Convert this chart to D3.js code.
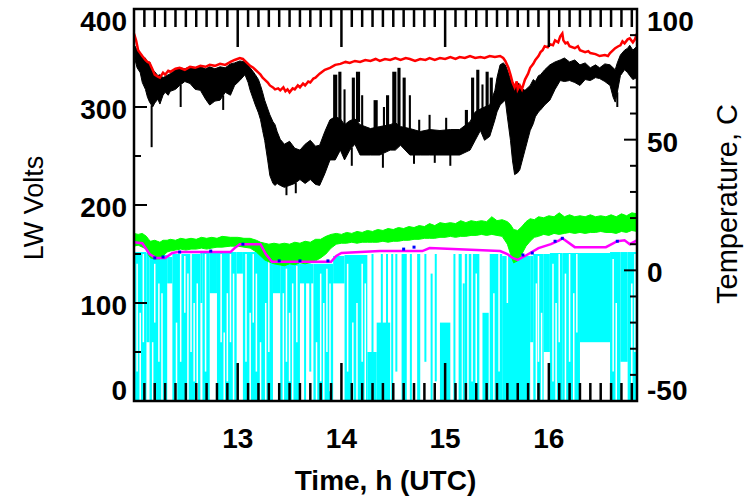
<!DOCTYPE html>
<html>
<head>
<meta charset="utf-8">
<script src="https://cdn.jsdelivr.net/npm/d3@7"></script>
<style>
  body { margin: 0; background: #fff; }
  svg text { font-family: "Liberation Sans", Arial, Helvetica, sans-serif; }
</style>
</head>
<body>
<svg id="chart" width="753" height="499"></svg>
<script>
// time axis (hours UTC)
const majorHours = [13, 14, 15, 16];
const leftTicks = [0, 100, 200, 300, 400];
const rightTicks = [-50, 0, 50, 100];

// red line (LW volts)
const redT = [12.00, 12.02, 12.04, 12.06, 12.08, 12.11, 12.13, 12.15, 12.18, 12.20, 12.23, 12.25, 12.28, 12.30, 12.33, 12.35, 12.40, 12.44, 12.49, 12.54, 12.59, 12.64, 12.69, 12.73, 12.78, 12.83, 12.88, 12.93, 12.97, 13.02, 13.05, 13.07, 13.10, 13.12, 13.15, 13.17, 13.20, 13.22, 13.24, 13.26, 13.29, 13.31, 13.34, 13.36, 13.39, 13.41, 13.44, 13.46, 13.48, 13.50, 13.53, 13.55, 13.58, 13.60, 13.63, 13.65, 13.68, 13.70, 13.73, 13.75, 13.79, 13.84, 13.89, 13.94, 13.99, 14.04, 14.08, 14.13, 14.18, 14.23, 14.28, 14.33, 14.37, 14.42, 14.47, 14.52, 14.57, 14.62, 14.66, 14.71, 14.76, 14.81, 14.85, 14.90, 14.95, 15.00, 15.05, 15.10, 15.14, 15.19, 15.24, 15.29, 15.34, 15.38, 15.43, 15.48, 15.53, 15.56, 15.58, 15.61, 15.63, 15.65, 15.67, 15.69, 15.70, 15.72, 15.74, 15.77, 15.80, 15.82, 15.85, 15.87, 15.90, 15.92, 15.94, 15.96, 15.99, 16.01, 16.04, 16.06, 16.09, 16.11, 16.13, 16.14, 16.16, 16.18, 16.20, 16.25, 16.28, 16.30, 16.35, 16.38, 16.40, 16.45, 16.49, 16.54, 16.57, 16.59, 16.62, 16.64, 16.67, 16.69, 16.71, 16.73, 16.76, 16.78, 16.81, 16.83, 16.85];
const redV = [375, 368, 358, 355, 352, 348, 346, 345, 338, 333, 331, 330, 335, 333, 337, 336, 339, 340, 338, 341, 340, 342, 341, 343, 342, 344, 343, 346, 348, 350, 349, 347, 344, 342, 340, 338, 335, 333, 330, 328, 325, 322, 320, 318, 319, 317, 320, 316, 318, 315, 319, 318, 322, 320, 324, 322, 326, 325, 329, 330, 334, 338, 340, 343, 344, 346, 345, 347, 346, 348, 347, 349, 347, 349, 348, 350, 348, 350, 349, 347, 349, 348, 350, 348, 350, 349, 351, 349, 351, 350, 352, 350, 351, 350, 352, 351, 352, 350, 347, 340, 333, 325, 320, 326, 318, 322, 318, 328, 334, 340, 344, 348, 352, 356, 358, 362, 361, 364, 363, 368, 366, 372, 375, 368, 365, 366, 362, 360, 362, 358, 356, 357, 355, 354, 352, 353, 352, 355, 358, 360, 362, 363, 367, 365, 369, 370, 366, 369, 375];

// black band (upper / lower edge, volts)
const blackT = [12.01, 12.03, 12.06, 12.08, 12.11, 12.13, 12.15, 12.18, 12.20, 12.23, 12.25, 12.28, 12.30, 12.33, 12.35, 12.40, 12.44, 12.49, 12.54, 12.59, 12.64, 12.69, 12.73, 12.78, 12.83, 12.88, 12.93, 12.97, 13.02, 13.07, 13.10, 13.12, 13.15, 13.17, 13.20, 13.22, 13.24, 13.26, 13.29, 13.31, 13.34, 13.36, 13.38, 13.41, 13.45, 13.50, 13.55, 13.60, 13.65, 13.70, 13.75, 13.79, 13.84, 13.89, 13.94, 13.99, 14.03, 14.08, 14.13, 14.18, 14.28, 14.37, 14.47, 14.52, 14.57, 14.66, 14.76, 14.85, 14.95, 15.05, 15.14, 15.24, 15.29, 15.34, 15.38, 15.43, 15.48, 15.50, 15.53, 15.56, 15.58, 15.60, 15.63, 15.65, 15.67, 15.70, 15.72, 15.75, 15.77, 15.80, 15.82, 15.85, 15.87, 15.90, 15.92, 15.96, 16.01, 16.06, 16.11, 16.15, 16.20, 16.25, 16.30, 16.35, 16.40, 16.45, 16.49, 16.54, 16.59, 16.62, 16.64, 16.66, 16.69, 16.73, 16.76, 16.78, 16.81, 16.85];
const blackHi = [362, 358, 355, 350, 350, 345, 346, 338, 336, 332, 333, 330, 331, 333, 334, 338, 340, 339, 341, 340, 341, 339, 341, 339, 341, 340, 344, 345, 347, 346, 343, 340, 336, 333, 328, 322, 315, 307, 298, 292, 285, 282, 275, 267, 262, 265, 258, 256, 262, 266, 260, 261, 275, 287, 290, 288, 282, 286, 288, 282, 278, 280, 282, 284, 280, 278, 275, 277, 276, 277, 277, 285, 295, 298, 300, 302, 317, 330, 343, 345, 343, 338, 328, 325, 322, 325, 322, 318, 317, 320, 322, 328, 326, 332, 333, 338, 343, 346, 348, 350, 346, 348, 343, 345, 340, 343, 340, 344, 343, 340, 338, 345, 353, 358, 360, 363, 358, 362];
const blackLo = [348, 340, 335, 325, 318, 310, 305, 300, 304, 308, 303, 312, 315, 312, 316, 318, 322, 326, 324, 318, 317, 308, 302, 306, 307, 315, 312, 322, 327, 333, 325, 317, 308, 302, 294, 287, 276, 266, 245, 230, 222, 220, 222, 220, 218, 220, 222, 226, 222, 226, 221, 220, 232, 246, 246, 256, 246, 256, 262, 251, 251, 251, 256, 256, 261, 251, 251, 251, 251, 251, 251, 256, 266, 276, 266, 270, 287, 295, 302, 305, 307, 290, 266, 245, 231, 233, 236, 248, 256, 268, 276, 283, 290, 295, 297, 302, 307, 318, 327, 326, 327, 325, 322, 328, 327, 330, 329, 326, 322, 310, 305, 315, 332, 338, 335, 332, 328, 330];
// black columns rising above the band: [t0, t1, top]
const blackUp = [[13.92, 13.96, 333], [13.97, 14.00, 336], [14.02, 14.04, 318], [14.10, 14.13, 330], [14.14, 14.18, 336], [14.19, 14.21, 312], [14.31, 14.35, 307], [14.40, 14.42, 300], [14.43, 14.46, 312], [14.49, 14.53, 336], [14.54, 14.57, 340], [14.59, 14.62, 330], [14.65, 14.67, 312], [14.74, 14.76, 287], [14.84, 14.86, 292], [15.00, 15.02, 289], [15.19, 15.22, 297], [15.25, 15.28, 330], [15.30, 15.33, 338], [15.35, 15.37, 323], [15.39, 15.42, 336], [15.43, 15.46, 330], [15.49, 15.51, 312]];
const blackDown = [[12.17, 259], [12.45, 300], [12.86, 297], [13.47, 210], [13.56, 212], [14.10, 240], [14.40, 238], [14.70, 242], [14.90, 243], [15.05, 240], [16.66, 300]];

// green band (volts)
const greenT = [12.00, 12.04, 12.08, 12.12, 12.14, 12.16, 12.20, 12.25, 12.28, 12.32, 12.35, 12.40, 12.45, 12.50, 12.55, 12.60, 12.65, 12.70, 12.75, 12.80, 12.85, 12.93, 13.00, 13.06, 13.12, 13.18, 13.22, 13.26, 13.30, 13.35, 13.40, 13.45, 13.50, 13.55, 13.60, 13.65, 13.70, 13.75, 13.80, 13.85, 13.90, 13.95, 14.00, 14.05, 14.10, 14.15, 14.20, 14.25, 14.30, 14.35, 14.40, 14.45, 14.50, 14.55, 14.60, 14.65, 14.70, 14.75, 14.80, 14.85, 14.90, 14.95, 15.00, 15.05, 15.10, 15.15, 15.20, 15.25, 15.30, 15.35, 15.40, 15.45, 15.50, 15.55, 15.60, 15.63, 15.66, 15.70, 15.74, 15.78, 15.82, 15.86, 15.90, 15.95, 16.00, 16.05, 16.10, 16.15, 16.20, 16.25, 16.30, 16.35, 16.40, 16.45, 16.50, 16.55, 16.60, 16.65, 16.70, 16.75, 16.80, 16.85];
const greenHi = [171, 170, 171, 168, 165, 163, 164, 162, 164, 164, 165, 164, 166, 165, 166, 165, 167, 166, 167, 166, 168, 167, 167, 166, 166, 164, 162, 161, 160, 161, 160, 161, 160, 162, 161, 163, 162, 165, 165, 168, 170, 171, 170, 172, 171, 173, 172, 174, 173, 175, 174, 176, 175, 177, 176, 178, 177, 179, 178, 181, 179, 182, 181, 182, 181, 184, 182, 184, 183, 184, 183, 188, 184, 185, 183, 180, 175, 174, 178, 183, 186, 185, 188, 187, 189, 188, 192, 188, 190, 188, 189, 188, 190, 188, 189, 188, 190, 188, 191, 189, 192, 191];
const greenLo = [158, 159, 157, 155, 149, 146, 145, 145, 148, 152, 153, 154, 155, 154, 155, 155, 156, 155, 156, 157, 157, 158, 158, 157, 156, 152, 148, 144, 142, 140, 139, 138, 140, 139, 141, 140, 141, 143, 146, 150, 156, 160, 161, 161, 162, 161, 162, 162, 162, 162, 163, 162, 163, 163, 164, 164, 165, 165, 166, 166, 166, 167, 167, 168, 167, 168, 168, 169, 169, 170, 169, 170, 169, 168, 160, 150, 141, 143, 150, 158, 163, 167, 168, 170, 169, 171, 170, 171, 172, 171, 172, 171, 172, 172, 173, 172, 172, 171, 173, 172, 174, 173];

// magenta line and blue points (volts)
const magT = [12.00, 12.08, 12.15, 12.21, 12.30, 12.37, 12.42, 12.93, 12.97, 13.02, 13.22, 13.27, 13.33, 13.90, 13.95, 14.00, 14.37, 14.78, 14.85, 15.53, 15.60, 15.65, 15.70, 15.77, 15.90, 16.02, 16.10, 16.13, 16.25, 16.55, 16.66, 16.73, 16.78, 16.85];
const magV = [162, 161, 150, 146, 146, 151, 152, 152, 156, 160, 160, 150, 142, 142, 148, 151, 153, 153, 156, 153, 150, 146, 144, 148, 156, 160, 164, 166, 157, 157, 163, 164, 160, 164];
const blueT = [12.20, 12.28, 12.44, 12.74, 13.05, 13.40, 13.60, 13.87, 14.60, 14.70, 15.75, 15.84, 16.06, 16.13, 16.66];
const blueV = [146, 147, 152, 153, 160, 143, 143, 143, 155, 157, 149, 151, 163, 166, 163];

// cyan columns: [t0, t1, low, high] (volts)
const cyanCols = [
  [12.00, 12.12, 0, 152], [12.12, 12.15, 60, 151], [12.15, 12.32, 0, 149], [12.32, 12.37, 120, 147],
  [12.37, 12.64, 0, 150], [12.64, 12.66, 100, 151], [12.66, 12.73, 0, 151], [12.73, 12.80, 110, 151],
  [12.80, 12.99, 0, 152], [12.99, 13.05, 130, 152], [13.05, 13.34, 0, 152], [13.34, 13.41, 110, 140],
  [13.41, 13.60, 0, 140], [13.60, 13.73, 120, 140], [13.64, 13.65, 0, 140], [13.69, 13.70, 30, 140],
  [13.73, 13.92, 0, 140], [13.92, 14.03, 120, 148], [14.03, 14.25, 0, 149], [14.25, 14.34, 0, 50],
  [14.29, 14.30, 0, 150], [14.34, 14.47, 0, 80], [14.38, 14.39, 0, 150], [14.43, 14.44, 0, 150],
  [14.48, 14.49, 0, 150], [14.52, 14.53, 30, 150], [14.58, 14.63, 0, 150], [14.66, 14.67, 0, 150],
  [14.73, 14.76, 0, 150], [14.80, 14.81, 40, 150], [14.86, 14.87, 0, 130], [14.90, 14.91, 20, 150],
  [14.95, 15.05, 0, 80], [15.08, 15.09, 0, 150], [15.13, 15.16, 0, 150], [15.17, 15.18, 0, 120],
  [15.19, 15.33, 0, 150], [15.36, 15.42, 0, 90], [15.43, 15.55, 0, 150], [15.55, 15.82, 0, 148],
  [15.82, 15.85, 60, 148], [15.85, 15.95, 0, 150], [15.95, 16.01, 50, 150], [16.01, 16.13, 0, 151],
  [16.13, 16.30, 0, 151], [16.30, 16.59, 60, 151], [16.59, 16.69, 0, 152], [16.69, 16.76, 40, 152],
  [16.76, 16.85, 0, 152]
];
// white gaps inside the cyan: [t, low, high]
const cyanGaps = [[12.03, 30, 140], [12.06, 0, 90], [12.09, 60, 150], [12.18, 0, 60], [12.20, 80, 140], [12.24, 40, 120], [12.27, 0, 110], [12.41, 0, 80], [12.45, 40, 150], [12.49, 90, 148], [12.52, 0, 130], [12.55, 50, 150], [12.58, 20, 100], [12.61, 0, 120], [12.69, 30, 150], [12.84, 60, 150], [12.87, 0, 70], [12.90, 20, 110], [12.93, 60, 150], [12.96, 0, 130], [13.08, 40, 150], [13.12, 0, 90], [13.15, 80, 150], [13.18, 30, 130], [13.22, 0, 60], [13.27, 0, 100], [13.30, 50, 150], [13.44, 0, 110], [13.47, 40, 135], [13.50, 20, 90], [13.53, 0, 120], [13.57, 60, 138], [13.76, 0, 60], [13.80, 20, 130], [13.83, 0, 100], [13.86, 50, 135], [13.89, 10, 120], [14.06, 30, 140], [14.11, 0, 80], [14.15, 0, 100], [14.20, 40, 140], [14.23, 0, 120], [15.22, 0, 150], [15.26, 20, 150], [15.30, 0, 130], [15.47, 0, 110], [15.52, 30, 150], [15.60, 100, 148], [15.88, 0, 120], [15.90, 40, 148], [15.93, 0, 90], [16.04, 20, 140], [16.07, 0, 100], [16.10, 60, 150], [16.16, 0, 130], [16.20, 40, 150], [16.24, 0, 110], [16.27, 70, 150], [16.62, 30, 145], [16.65, 0, 100], [16.80, 0, 120], [16.83, 50, 150]];

const svg = d3.select('#chart');
svg.append('rect').attr('width', 753).attr('height', 499).attr('fill', '#fff');

const pL = 134, pR = 637, pT = 9, pB = 401;
const x = d3.scaleLinear().domain([12, 16.85]).range([pL, pR]);
const yL = d3.scaleLinear().domain([0, 400]).range([pB, pT]);
const yR = d3.scaleLinear().domain([-50, 100]).range([pB, pT]);

const plot = svg.append('g');

// cyan
plot.append('g').selectAll('rect')
  .data(cyanCols)
  .enter().append('rect')
  .attr('x', d => x(d[0]))
  .attr('width', d => Math.max(2, x(d[1]) - x(d[0])))
  .attr('y', d => yL(d[3]))
  .attr('height', d => yL(d[2]) - yL(d[3]))
  .attr('fill', '#00ffff');
plot.append('g').selectAll('line')
  .data(cyanGaps)
  .enter().append('line')
  .attr('x1', d => x(d[0])).attr('x2', d => x(d[0]))
  .attr('y1', d => yL(d[1])).attr('y2', d => yL(d[2]))
  .attr('stroke', '#fff').attr('stroke-width', 1.5);

// green band
const greenData = greenT.map((t, i) => ({t, hi: greenHi[i], lo: greenLo[i]}));
plot.append('path')
  .datum(greenData)
  .attr('d', d3.area().x(d => x(d.t)).y0(d => yL(d.lo)).y1(d => yL(d.hi)))
  .attr('fill', '#00ff00')
  .attr('stroke', '#00ff00').attr('stroke-width', 1);

// magenta line + blue points
const magData = magT.map((t, i) => ({t, v: magV[i]}));
plot.append('path')
  .datum(magData)
  .attr('d', d3.line().x(d => x(d.t)).y(d => yL(d.v)))
  .attr('fill', 'none').attr('stroke', '#ff00ff').attr('stroke-width', 2.5);
plot.append('g').selectAll('rect')
  .data(blueT.map((t, i) => ({t, v: blueV[i]})))
  .enter().append('rect')
  .attr('x', d => x(d.t) - 1.5).attr('y', d => yL(d.v) - 1.5)
  .attr('width', 3).attr('height', 3)
  .attr('fill', '#0000ff');

// black band + spikes
const blackData = blackT.map((t, i) => ({t, hi: blackHi[i], lo: blackLo[i]}));
plot.append('path')
  .datum(blackData)
  .attr('d', d3.area().x(d => x(d.t)).y0(d => yL(d.lo)).y1(d => yL(d.hi)))
  .attr('fill', '#000').attr('stroke', '#000').attr('stroke-width', 1);
const bandAt = (t, key) => {
  const i = d3.bisector(d => d.t).left(blackData, t);
  const a = blackData[Math.max(0, i - 1)], b = blackData[Math.min(blackData.length - 1, i)];
  if (a === b) return a[key];
  return a[key] + (b[key] - a[key]) * (t - a.t) / (b.t - a.t);
};
plot.append('g').selectAll('rect')
  .data(blackUp)
  .enter().append('rect')
  .attr('x', d => x(d[0]))
  .attr('width', d => x(d[1]) - x(d[0]))
  .attr('y', d => yL(d[2]))
  .attr('height', d => yL(bandAt(d[0], 'hi')) - yL(d[2]) + 2)
  .attr('fill', '#000');
plot.append('g').selectAll('line')
  .data(blackDown)
  .enter().append('line')
  .attr('x1', d => x(d[0])).attr('x2', d => x(d[0]))
  .attr('y1', d => yL(bandAt(d[0], 'lo'))).attr('y2', d => yL(d[1]))
  .attr('stroke', '#000').attr('stroke-width', 2);

// red line
const redData = redT.map((t, i) => ({t, v: redV[i]}));
plot.append('path')
  .datum(redData)
  .attr('d', d3.line().x(d => x(d.t)).y(d => yL(d.v)))
  .attr('fill', 'none').attr('stroke', '#ff0000').attr('stroke-width', 2.5);

// frame
svg.append('rect')
  .attr('x', pL).attr('y', pT)
  .attr('width', pR - pL).attr('height', pB - pT)
  .attr('fill', 'none').attr('stroke', '#000').attr('stroke-width', 2.5);

// ticks
const minorHours = d3.range(121, 169).map(d => d / 10);
function hTicks(g, vals, len) {
  g.selectAll(null).data(vals).enter().append('line')
    .attr('x1', d => x(d)).attr('x2', d => x(d))
    .attr('y1', pB).attr('y2', pB - len)
    .attr('stroke', '#000').attr('stroke-width', 2.5);
  g.selectAll(null).data(vals).enter().append('line')
    .attr('x1', d => x(d)).attr('x2', d => x(d))
    .attr('y1', pT).attr('y2', pT + len)
    .attr('stroke', '#000').attr('stroke-width', 2.5);
}
const tickG = svg.append('g');
hTicks(tickG, minorHours.filter(h => !majorHours.includes(Math.round(h * 10) / 10)), 18);
hTicks(tickG, majorHours, 38);

const leftMinor = d3.range(0, 401, 50);
tickG.selectAll(null).data(leftMinor).enter().append('line')
  .attr('x1', pL).attr('x2', d => pL + (d % 100 === 0 ? 13 : 7))
  .attr('y1', d => yL(d)).attr('y2', d => yL(d))
  .attr('stroke', '#000').attr('stroke-width', 2);
const rightMinor = d3.range(-50, 101, 10);
tickG.selectAll(null).data(rightMinor).enter().append('line')
  .attr('x1', pR).attr('x2', d => pR - (d % 50 === 0 ? 13 : 7))
  .attr('y1', d => yR(d)).attr('y2', d => yR(d))
  .attr('stroke', '#000').attr('stroke-width', 2);

// labels
const clampY = y => Math.max(pT + 12, Math.min(pB - 11, y + 2));
svg.append('g').selectAll('text')
  .data(leftTicks).enter().append('text')
  .attr('x', 127).attr('y', d => clampY(yL(d)))
  .attr('dy', '0.36em')
  .attr('text-anchor', 'end')
  .attr('font-size', 28).attr('font-weight', 'bold')
  .text(d => d);
svg.append('g').selectAll('text')
  .data(rightTicks).enter().append('text')
  .attr('x', 647).attr('y', d => clampY(yR(d)))
  .attr('dy', '0.36em')
  .attr('font-size', 28).attr('font-weight', 'bold')
  .text(d => d);
svg.append('g').selectAll('text')
  .data(majorHours).enter().append('text')
  .attr('x', d => x(d)).attr('y', 448)
  .attr('text-anchor', 'middle')
  .attr('font-size', 28).attr('font-weight', 'bold')
  .text(d => d);

svg.append('text')
  .attr('x', (pL + pR) / 2).attr('y', 490)
  .attr('text-anchor', 'middle')
  .attr('font-size', 28).attr('font-weight', 'bold')
  .text('Time, h (UTC)');
svg.append('text')
  .attr('transform', 'translate(43,208) rotate(-90)')
  .attr('text-anchor', 'middle')
  .attr('font-size', 27)
  .text('LW Volts');
svg.append('text')
  .attr('transform', 'translate(737,204) rotate(-90)')
  .attr('text-anchor', 'middle')
  .attr('font-size', 29)
  .text('Temperature, C');
</script>
</body>
</html>
